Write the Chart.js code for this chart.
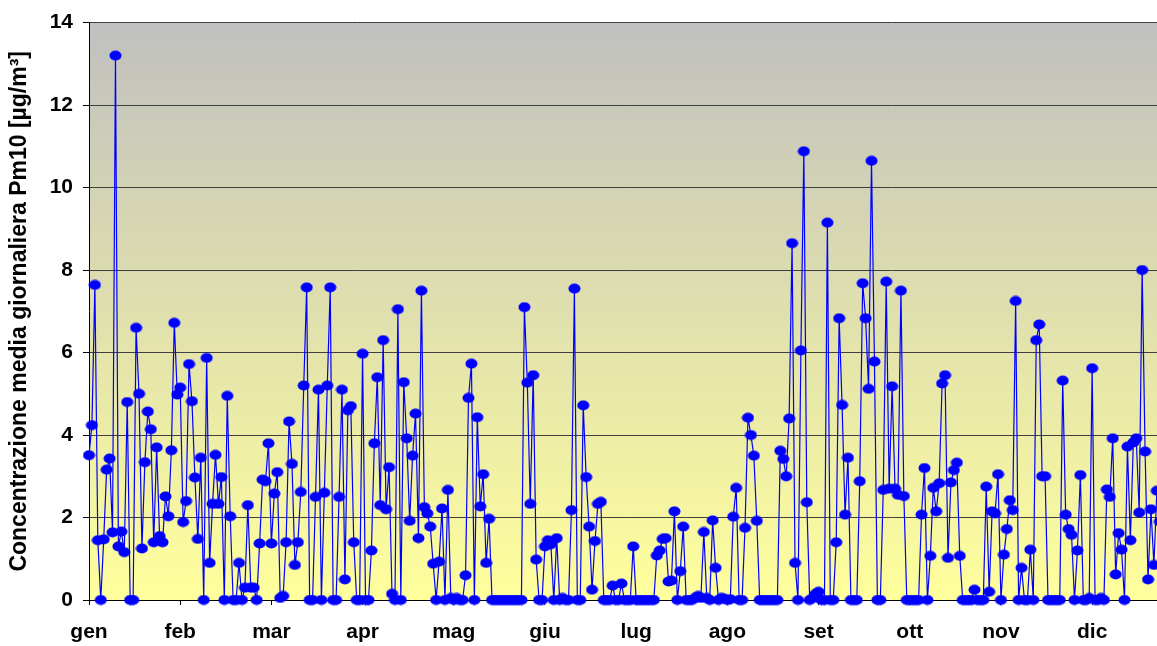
<!DOCTYPE html>
<html>
<head>
<meta charset="utf-8">
<script src="https://cdn.jsdelivr.net/npm/chart.js@4.4.0/dist/chart.umd.min.js"></script>
<style>
html, body { margin: 0; padding: 0; background: #fff; overflow: hidden; }
canvas { display: block; }
</style>
</head>
<body>
<canvas id="pm10" width="1167" height="646"></canvas>
<script>
// tick labels (one every 31 days, like the original axis)
const monthLabels = ['gen', 'feb', 'mar', 'apr', 'mag', 'giu', 'lug', 'ago', 'set', 'ott', 'nov', 'dic'];
const labelEvery = 31;

// daily Pm10 mean, one array per month
const gen = [3.51, 4.24, 7.64, 1.45, 0, 1.47, 3.16, 3.43, 1.64, 13.2, 1.3, 1.66, 1.16, 4.8, 0, 0, 6.6, 5.0, 1.25, 3.34, 4.57, 4.14, 1.4, 3.7, 1.55, 1.4, 2.51, 2.03, 3.63, 6.72, 4.98];
const feb = [5.15, 1.89, 2.4, 5.72, 4.82, 2.97, 1.48, 3.45, 0, 5.87, 0.9, 2.33, 3.52, 2.33, 2.98, 0, 4.95, 2.03, 0, 0, 0.9, 0, 0.3, 2.3, 0.3, 0.3, 0, 1.37];
const mar = [2.92, 2.88, 3.8, 1.37, 2.58, 3.1, 0.05, 0.1, 1.4, 4.33, 3.3, 0.85, 1.4, 2.62, 5.2, 7.58, 0, 0, 2.5, 5.1, 0, 2.6, 5.2, 7.58, 0, 0, 2.5, 5.1, 0.5, 4.6, 4.7];
const apr = [1.4, 0, 0, 5.97, 0, 0, 1.2, 3.8, 5.4, 2.3, 6.3, 2.2, 3.22, 0.15, 0, 7.05, 0, 5.28, 3.92, 1.92, 3.5, 4.52, 1.5, 7.5, 2.25, 2.1, 1.78, 0.88, 0, 0.93];
const mag = [2.22, 0, 2.67, 0.05, 0, 0.05, 0, 0, 0.6, 4.9, 5.73, 0, 4.43, 2.27, 3.05, 0.9, 1.97, 0, 0, 0, 0, 0, 0, 0, 0, 0, 0, 0, 7.1, 5.27, 2.33];
const giu = [5.45, 0.98, 0, 0, 1.3, 1.45, 1.35, 0, 1.5, 0, 0.05, 0, 0, 2.18, 7.55, 0, 0, 4.72, 2.98, 1.78, 0.25, 1.43, 2.33, 2.38, 0, 0, 0, 0.35, 0, 0];
const lug = [0.4, 0, 0, 0, 1.3, 0, 0, 0, 0, 0, 0, 0, 1.08, 1.2, 1.48, 1.5, 0.45, 0.47, 2.15, 0, 0.7, 1.78, 0, 0, 0, 0.05, 0.1, 0.05, 1.65, 0.05, 0];
const ago = [1.93, 0.78, 0, 0.05, 0.03, 0, 0.02, 2.02, 2.72, 0, 0, 1.75, 4.42, 4.0, 3.5, 1.92, 0, 0, 0, 0, 0, 0, 0, 3.62, 3.42, 3.0, 4.4, 8.65, 0.9, 0, 6.05];
const set = [10.88, 2.37, 0, 0.05, 0.15, 0.2, 0, 0, 9.15, 0, 0, 1.4, 6.83, 4.73, 2.07, 3.45, 0, 0, 0, 2.88, 7.68, 6.83, 5.12, 10.65, 5.78, 0, 0, 2.67, 7.72, 2.7];
const ott = [5.18, 2.7, 2.55, 7.5, 2.52, 0, 0, 0, 0, 0, 2.07, 3.2, 0, 1.07, 2.72, 2.15, 2.83, 5.25, 5.45, 1.02, 2.85, 3.15, 3.33, 1.07, 0, 0, 0, 0, 0.25, 0, 0];
const nov = [0, 2.75, 0.2, 2.15, 2.1, 3.05, 0, 1.1, 1.72, 2.42, 2.18, 7.25, 0, 0.78, 0, 0, 1.22, 0, 6.3, 6.68, 3.0, 3.0, 0, 0, 0, 0, 0, 5.32, 2.07, 1.72];
const dic = [1.58, 0, 1.2, 3.03, 0, 0, 0.05, 5.62, 0, 0, 0.05, 0, 2.68, 2.5, 3.92, 0.62, 1.62, 1.22, 0, 3.72, 1.45, 3.82, 3.92, 2.12, 8.0, 3.6, 0.5, 2.2, 0.85, 2.65, 1.9];

const yearValues = [].concat(gen, feb, mar, apr, mag, giu, lug, ago, set, ott, nov, dic);
const points = yearValues.map((v, i) => ({ x: i, y: v }));

const fontFamily = "'Liberation Sans', Arial, sans-serif";
const tickFont = { family: fontFamily, size: 21, weight: 'bold' };

// slightly wide blue dot used as marker
const dot = document.createElement('canvas');
dot.width = 13;
dot.height = 11;
const dctx = dot.getContext('2d');
dctx.fillStyle = '#0000ff';
dctx.beginPath();
dctx.ellipse(6.5, 5.5, 6, 5, 0, 0, Math.PI * 2);
dctx.fill();

// grey to pale yellow fill behind the plot area
const plotBg = {
    id: 'plotBg',
    beforeDraw(chart) {
        const { ctx, chartArea: a } = chart;
        const g = ctx.createLinearGradient(0, a.top, 0, a.bottom);
        g.addColorStop(0, '#c0c0c0');
        g.addColorStop(1, '#ffff9c');
        ctx.save();
        ctx.fillStyle = g;
        ctx.fillRect(a.left, a.top, a.right - a.left, a.bottom - a.top);
        ctx.restore();
    }
};

new Chart('pm10', {
    type: 'line',
    data: {
        datasets: [{
            data: points,
            borderColor: '#0000ff',
            borderWidth: 1.2,
            backgroundColor: '#0000ff',
            pointStyle: dot,
            pointRadius: 6,
            lineTension: 0,
            fill: false,
            clip: false
        }]
    },
    options: {
        responsive: false,
        animation: false,
        layout: { padding: { top: 21, right: 0, bottom: 0, left: 0 } },
        plugins: { legend: { display: false }, tooltip: { enabled: false } },
        scales: {
            x: {
                type: 'linear',
                min: 0,
                max: yearValues.length - 1,
                afterFit(scale) { scale.height = 46; },
                afterBuildTicks(scale) {
                    scale.ticks = monthLabels.map((m, i) => ({ value: i * labelEvery }));
                },
                ticks: {
                    autoSkip: false,
                    maxRotation: 0,
                    padding: 15,
                    color: '#000',
                    font: tickFont,
                    callback: (v) => monthLabels[Math.round(v / labelEvery)]
                },
                grid: { drawOnChartArea: false, tickLength: 5, tickColor: '#000' },
                border: { color: '#000', width: 1 }
            },
            y: {
                min: 0,
                max: 14,
                afterFit(scale) { scale.width = 89; },
                ticks: { stepSize: 2, padding: 10, color: '#000', font: tickFont },
                grid: { color: '#404040', lineWidth: 1, tickLength: 6, tickColor: '#000' },
                border: { color: '#000', width: 1 },
                title: {
                    display: true,
                    text: 'Concentrazione media giornaliera Pm10 [µg/m³]',
                    color: '#000',
                    font: { family: fontFamily, size: 23, weight: 'bold' },
                    padding: { top: 6, bottom: 0 }
                }
            }
        }
    },
    plugins: [plotBg]
});
</script>
</body>
</html>
